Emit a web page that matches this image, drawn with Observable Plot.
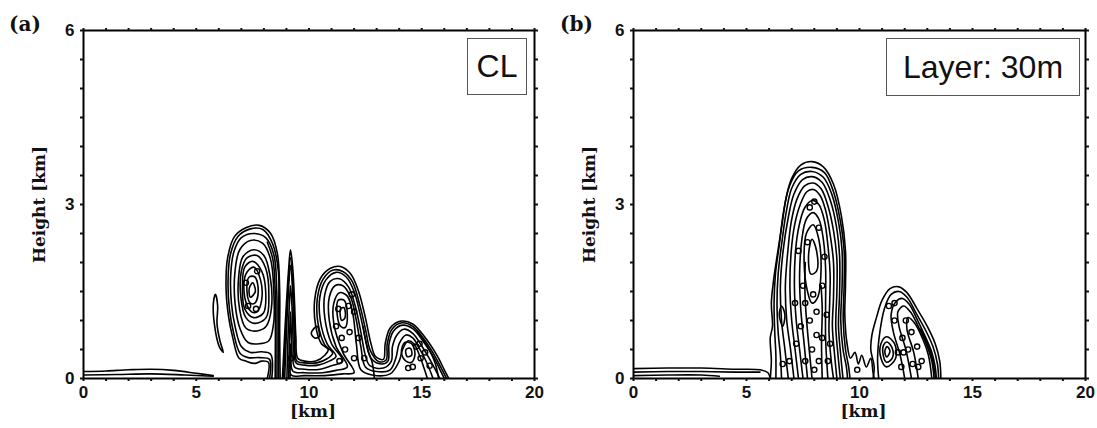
<!DOCTYPE html>
<html>
<head>
<meta charset="utf-8">
<script src="https://cdn.jsdelivr.net/npm/d3@7"></script>
<script src="https://cdn.jsdelivr.net/npm/@observablehq/plot@0.6"></script>
<style>
  html, body { margin: 0; padding: 0; background: #fff; }
  #wrap { position: relative; width: 1097px; height: 428px; overflow: hidden; }
  .panel { position: absolute; top: 0; }
  .plab { position: absolute; font-family: "DejaVu Serif", serif; font-weight: bold; font-size: 20px; line-height: 20px; color: #111; }
  .legbox { position: absolute; box-sizing: border-box; border: 1.5px solid #555; background: #fff;
            font-family: "Liberation Sans", Arial, sans-serif; font-size: 32px; color: #111;
            display: flex; align-items: center; justify-content: center; }
</style>
</head>
<body>
<div id="wrap">
  <div class="panel" id="pa" style="left:0px"></div>
  <div class="panel" id="pb" style="left:548px"></div>
  <div class="plab" style="left:9px; top:14px">(a)</div>
  <div class="plab" style="left:560px; top:14px">(b)</div>
  <div class="legbox" style="left:467px; top:38px; width:60px; height:57px;">CL</div>
  <div class="legbox" style="left:886px; top:38px; width:194px; height:58px;">Layer: 30m</div>
</div>
<script>
// ---------- axis ticks ----------
const xMinorTicks = [0,1,2,3,4,5,6,7,8,9,10,11,12,13,14,15,16,17,18,19,20];
const xLabelTicks = [0,5,10,15,20];
const yMinorTicks = [0,0.5,1,1.5,2,2.5,3,3.5,4,4.5,5,5.5,6];
const yLabelTicks = [0,3,6];
const xTitle = "[km]";
const yTitle = "Height [km]";

// ---------- panel (a) CL : contour lines, [km, km] ----------
const aGroundLines = [
  [[0,0.12],[1,0.13],[2,0.15],[3,0.16],[4,0.14],[5,0.09],[5.75,0.05]],
  [[0,0.06],[1.5,0.07],[3,0.08],[4.5,0.06],[5.75,0.04]]
];
const aVortex1Open = [
  [[8.15,0],[8.2,0.28],[7.9,0.3],[7.6,0.26],[7.2,0.3],[6.9,0.35],[6.62,0.7],[6.42,1.1],[6.32,1.6],[6.4,2.1],[6.7,2.45],[7.2,2.6],[7.8,2.64],[8.3,2.5],[8.6,2.15],[8.7,1.5],[8.7,0.8],[8.72,0]],
  [[8.25,0],[8.25,0.33],[7.8,0.36],[7.3,0.36],[6.95,0.43],[6.66,0.78],[6.47,1.2],[6.41,1.7],[6.52,2.15],[6.85,2.45],[7.4,2.58],[7.95,2.57],[8.38,2.33],[8.64,1.85],[8.65,1.1],[8.65,0]],
  [[8.35,0],[8.3,0.42],[7.9,0.46],[7.4,0.45],[7.0,0.55],[6.72,0.9],[6.56,1.3],[6.53,1.8],[6.68,2.2],[7.0,2.43],[7.6,2.5],[8.1,2.42],[8.45,2.12],[8.57,1.5],[8.58,0.8],[8.58,0]],
  [[8.5,0],[8.51,0.8],[8.5,1.5],[8.4,2.05],[8.15,2.35]]
];
const aVortex1Closed = [
  [[7.8,0.6],[7.3,0.62],[6.95,0.85],[6.72,1.3],[6.72,1.85],[6.93,2.22],[7.4,2.38],[7.95,2.33],[8.3,2.05],[8.44,1.5],[8.43,0.95],[8.22,0.65]],
  [[7.7,0.82],[7.2,0.87],[6.92,1.2],[6.88,1.75],[7.07,2.1],[7.55,2.22],[8.0,2.12],[8.28,1.75],[8.33,1.2],[8.1,0.9]],
  [[7.6,0.95],[7.2,1.05],[6.98,1.4],[7.0,1.85],[7.25,2.08],[7.7,2.12],[8.08,1.9],[8.22,1.45],[8.1,1.05]],
  [[7.55,1.05],[7.15,1.2],[7.05,1.58],[7.15,1.92],[7.5,2.02],[7.9,1.85],[8.08,1.5],[7.98,1.13]],
  [[7.45,1.15],[7.15,1.4],[7.2,1.8],[7.55,1.92],[7.85,1.7],[7.9,1.35],[7.7,1.15]],
  [[7.4,1.3],[7.25,1.5],[7.35,1.75],[7.6,1.75],[7.75,1.5],[7.6,1.3]],
  [[7.4,1.4],[7.35,1.55],[7.5,1.65],[7.62,1.5]],
  [[5.85,1.45],[5.95,1.25],[5.92,0.95],[6.05,0.65],[6.2,0.45],[6.02,0.55],[5.8,0.95],[5.76,1.3]],
  [[10.1,0.78],[10.35,0.9],[10.45,0.72],[10.25,0.7]]
];
const aSpikeAndTrailOpen = [
  [[8.82,0],[8.9,0.6],[9.0,1.3],[9.1,1.9],[9.18,2.22],[9.28,1.9],[9.36,1.3],[9.42,0.7],[9.5,0.35],[9.8,0.3],[10.3,0.3],[10.7,0.4],[10.85,0.5],[10.55,0.6],[10.3,0.9],[10.25,1.35],[10.5,1.72],[10.95,1.9],[11.4,1.93],[11.85,1.8],[12.2,1.5],[12.5,1.05],[12.75,0.6],[12.95,0.38],[13.3,0.33],[13.38,0.6],[13.6,0.87],[14.1,0.99],[14.6,0.94],[15.2,0.68],[15.7,0.38],[16.0,0.15],[16.2,0]],
  [[8.87,0],[8.94,0.6],[9.03,1.3],[9.18,2.08],[9.32,1.3],[9.38,0.7],[9.46,0.3],[9.8,0.27],[10.35,0.27],[10.8,0.34],[11.05,0.44],[10.7,0.58],[10.4,0.95],[10.37,1.38],[10.62,1.71],[11.07,1.87],[11.52,1.84],[11.92,1.67],[12.25,1.27],[12.52,0.82],[12.72,0.48],[13.1,0.29],[13.42,0.32],[13.47,0.6],[13.68,0.85],[14.12,0.96],[14.6,0.9],[15.15,0.65],[15.62,0.36],[15.93,0.13],[16.1,0]],
  [[8.92,0],[8.98,0.6],[9.06,1.3],[9.18,1.95],[9.3,1.3],[9.35,0.7],[9.42,0.27],[9.8,0.23],[10.4,0.23],[10.9,0.3],[11.2,0.38],[10.8,0.6],[10.5,1.0],[10.48,1.4],[10.75,1.7],[11.2,1.83],[11.65,1.75],[12.0,1.5],[12.3,1.05],[12.55,0.6],[12.75,0.35],[13.2,0.25],[13.5,0.3],[13.55,0.6],[13.75,0.82],[14.15,0.92],[14.6,0.86],[15.1,0.62],[15.55,0.35],[15.85,0.12],[16.0,0]],
  [[9.02,0],[9.06,0.6],[9.12,1.2],[9.18,1.6],[9.25,1.2],[9.3,0.6],[9.36,0.2],[9.8,0.16],[10.5,0.16],[11.0,0.22],[11.5,0.3],[11.0,0.6],[10.7,1.05],[10.7,1.45],[10.95,1.68],[11.35,1.72],[11.75,1.58],[12.05,1.25],[12.3,0.8],[12.5,0.4],[12.7,0.22],[13.3,0.18],[13.65,0.3],[13.7,0.55],[13.9,0.75],[14.2,0.85],[14.6,0.78],[15.0,0.56],[15.4,0.3],[15.7,0.08],[15.8,0]],
  [[9.1,0],[9.13,0.6],[9.18,1.15],[9.23,0.6],[9.28,0.13],[9.8,0.1],[10.6,0.1],[11.2,0.14],[11.7,0.2],[11.2,0.55],[10.9,1.0],[10.9,1.4],[11.15,1.6],[11.5,1.6],[11.85,1.4],[12.1,1.0],[12.3,0.55],[12.5,0.2],[13.0,0.12],[13.6,0.15],[13.85,0.35],[14.0,0.6],[14.3,0.75],[14.6,0.7],[14.95,0.48],[15.25,0.25],[15.5,0]],
  [[9.16,0],[9.18,0.6],[9.21,0.06],[9.8,0.05],[10.7,0.05],[11.5,0.08],[12.0,0.1],[11.5,0.45],[11.1,0.95],[11.1,1.3],[11.35,1.48],[11.7,1.42],[11.95,1.1],[12.1,0.6],[12.3,0.15],[12.8,0.06],[13.6,0.08],[14.0,0.3],[14.15,0.5],[14.4,0.65],[14.65,0.6],[14.9,0.4],[15.1,0.18],[15.25,0]],
  [[12.4,0.9],[12.6,0.5],[12.8,0.28],[12.9,0]],
  [[14.8,0.82],[15.3,0.52],[15.6,0.26],[15.75,0]]
];
const aCoresClosed = [
  [[11.4,0.9],[11.25,1.1],[11.3,1.35],[11.55,1.35],[11.7,1.1],[11.6,0.88]],
  [[11.45,1.0],[11.4,1.2],[11.55,1.22],[11.6,1.05]],
  [[14.3,0.3],[14.1,0.45],[14.25,0.62],[14.55,0.6],[14.7,0.42],[14.55,0.28]],
  [[14.35,0.38],[14.3,0.5],[14.5,0.52],[14.55,0.4]]
];
const aCells = [[11.3,1.2],[11.75,1.25],[11.8,0.8],[11.45,0.7],[12.0,1.15],[11.6,0.5],[12.2,0.7],[12.0,0.35],[11.2,0.9],[11.9,1.45],
  [14.75,0.55],[14.95,0.35],[15.15,0.45],[14.4,0.18],[15.35,0.22],[14.6,0.2],[14.9,0.6],
  [7.3,1.25],[7.65,1.2],[7.2,1.65],[7.7,1.85],[12.45,0.35],[11.35,0.3],[9.2,0.35]];

// ---------- panel (b) Layer: 30m ----------
const bGroundLines = [
  [[0,0.17],[1.5,0.18],[3,0.18],[4.5,0.16],[5.6,0.15],[5.95,0.1],[6.05,0]],
  [[0,0.11],[1.5,0.12],[3,0.12],[4.5,0.11],[5.6,0.11]],
  [[0,0.05],[1.5,0.06],[3,0.06],[3.8,0.04]]
];
const bPlumeOpen = [
  [[6.05,0],[6.1,0.3],[6.05,0.7],[6.15,0.9],[6.1,1.3],[6.2,1.7],[6.35,2.1],[6.55,2.6],[6.75,3.1],[7.0,3.45],[7.4,3.68],[7.9,3.74],[8.4,3.65],[8.85,3.35],[9.2,2.8],[9.38,2.2],[9.38,1.6],[9.35,1.1],[9.45,0.6],[9.6,0.35],[9.8,0.45],[9.95,0.25],[10.1,0.4],[10.3,0.2],[10.5,0.35],[10.6,0.1],[10.65,0]],
  [[6.3,0],[6.3,0.4],[6.25,0.8],[6.22,1.3],[6.28,1.8],[6.45,2.3],[6.63,2.85],[6.88,3.3],[7.3,3.58],[7.9,3.64],[8.45,3.55],[8.85,3.22],[9.15,2.72],[9.32,2.2],[9.32,1.6],[9.28,1.0],[9.38,0.5],[9.52,0.2],[9.58,0]],
  [[6.55,0],[6.5,0.4],[6.4,0.8],[6.35,1.3],[6.4,1.8],[6.55,2.3],[6.75,2.85],[7.0,3.28],[7.4,3.52],[7.9,3.57],[8.4,3.47],[8.78,3.17],[9.07,2.7],[9.23,2.2],[9.23,1.6],[9.17,1.0],[9.27,0.5],[9.42,0.2],[9.47,0]],
  [[6.85,0],[6.7,0.5],[6.55,1.0],[6.5,1.6],[6.62,2.2],[6.85,2.78],[7.1,3.18],[7.48,3.43],[7.9,3.48],[8.35,3.38],[8.7,3.08],[8.98,2.62],[9.12,2.1],[9.12,1.5],[9.07,0.9],[9.17,0.4],[9.27,0]],
  [[7.1,0],[6.95,0.5],[6.78,1.0],[6.72,1.6],[6.83,2.2],[6.98,2.7],[7.22,3.08],[7.57,3.32],[7.95,3.37],[8.3,3.27],[8.6,2.98],[8.85,2.55],[9.0,2.05],[9.0,1.5],[8.95,0.9],[9.05,0.4],[9.15,0]],
  [[7.3,0],[7.15,0.5],[7.0,1.0],[6.92,1.6],[6.98,2.2],[7.13,2.65],[7.38,3.0],[7.67,3.22],[7.95,3.26],[8.25,3.16],[8.5,2.9],[8.7,2.48],[8.85,2.0],[8.85,1.4],[8.8,0.9],[8.9,0.4],[9.0,0]],
  [[7.5,0],[7.35,0.5],[7.2,1.0],[7.12,1.6],[7.17,2.2],[7.32,2.62],[7.57,2.94],[7.9,3.07],[8.2,3.0],[8.45,2.72],[8.6,2.3],[8.7,1.8],[8.68,1.3],[8.65,0.8],[8.75,0.3],[8.85,0]],
  [[7.7,0],[7.55,0.6],[7.4,1.2],[7.35,1.8],[7.45,2.4],[7.65,2.75],[7.95,2.86],[8.2,2.75],[8.4,2.4],[8.5,1.9],[8.5,1.3],[8.5,0.7],[8.6,0]],
  [[7.9,0],[7.75,0.6],[7.62,1.2],[7.58,1.6],[7.6,2.0]],
  [[8.35,0],[8.32,0.6],[8.35,1.2],[8.3,1.6]],
  [[10.6,0],[10.65,0.2],[10.5,0.5],[10.55,0.75],[10.75,1.05],[11.0,1.35],[11.35,1.55],[11.75,1.58],[12.1,1.48],[12.55,1.2],[13.0,0.9],[13.35,0.6],[13.55,0.3],[13.6,0]],
  [[10.85,0],[10.8,0.35],[10.9,0.8],[11.1,1.2],[11.4,1.45],[11.75,1.5],[12.1,1.4],[12.5,1.13],[12.9,0.85],[13.25,0.55],[13.45,0.25],[13.5,0]],
  [[12.0,0],[11.8,0.4],[11.5,0.8],[11.4,1.1],[11.6,1.32],[11.9,1.38],[12.2,1.28],[12.55,1.02],[12.9,0.73],[13.2,0.45],[13.35,0.2],[13.4,0]],
  [[12.3,0],[12.05,0.5],[11.75,0.9],[11.7,1.15],[11.95,1.25],[12.25,1.15],[12.6,0.9],[12.95,0.6],[13.2,0.3],[13.3,0]],
  [[12.6,0],[12.4,0.45],[12.1,0.85],[12.15,1.05],[12.45,0.95],[12.8,0.68],[13.05,0.4],[13.2,0]],
  [[12.7,0.85],[13.0,0.6],[13.22,0.35],[13.36,0]]
];
const bCoresClosed = [
  [[7.7,1.5],[7.55,2.0],[7.65,2.5],[7.95,2.65],[8.2,2.4],[8.3,1.9],[8.15,1.4],[7.9,1.3]],
  [[7.85,1.8],[7.75,2.15],[7.9,2.4],[8.1,2.2],[8.1,1.85]],
  [[11.2,0.2],[10.95,0.35],[10.95,0.6],[11.2,0.72],[11.55,0.6],[11.6,0.35]],
  [[11.2,0.28],[11.05,0.4],[11.07,0.58],[11.22,0.63],[11.45,0.52],[11.45,0.35]],
  [[11.2,0.37],[11.12,0.47],[11.22,0.55],[11.35,0.47]],
  [[6.6,0.9],[6.45,1.1],[6.55,1.25],[6.7,1.1]]
];
const bCells = [[7.6,0.3],[7.9,0.5],[8.2,0.3],[8.35,0.7],[7.8,1.0],[8.1,1.15],[7.5,1.6],[8.35,1.6],[7.7,2.35],[8.0,3.05],[7.4,0.9],[8.6,0.3],[6.9,0.3],[7.2,0.6],[8.0,0.15],[7.6,1.3],
  [8.1,0.75],[7.95,1.45],[8.45,2.1],[7.3,2.2],[8.2,2.6],[7.8,2.95],[8.55,1.1],[7.15,1.3],[8.7,0.6],
  [11.3,1.25],[11.55,1.0],[11.9,0.7],[12.15,0.5],[12.35,0.25],[12.05,1.0],[12.55,0.55],[11.85,0.2],[12.75,0.3],[11.7,0.45],[9.9,0.15],[6.6,0.25],
  [11.55,1.3],[12.3,0.8],[12.6,0.2],[11.95,0.45]];

// ---------- drawing ----------
const toRows = lines => lines.flatMap((pts, i) => pts.map(([x, y]) => ({id: i, x, y})));
const toDots = pts => pts.map(([x, y]) => ({x, y}));

function panel({width, marginLeft, marginRight, openLines, closedLines, cells}) {
  const lineStyle = {stroke: "black", strokeWidth: 1.6, clip: true};
  return Plot.plot({
    width, height: 428,
    marginLeft, marginRight, marginTop: 30, marginBottom: 50,
    style: {fontFamily: "'Liberation Sans', Arial, sans-serif", fontWeight: "bold", fontSize: "17px", color: "#111", background: "white"},
    x: {domain: [0, 20], label: null},
    y: {domain: [0, 6], label: null},
    marks: [
      Plot.line(toRows(openLines), {x: "x", y: "y", z: "id", curve: "catmull-rom", ...lineStyle}),
      Plot.line(toRows(closedLines), {x: "x", y: "y", z: "id", curve: "catmull-rom-closed", ...lineStyle}),
      Plot.dot(toDots(cells), {x: "x", y: "y", r: 2.6, stroke: "black", fill: "none", strokeWidth: 1.4, clip: true}),
      Plot.frame({stroke: "black", strokeWidth: 2}),
      Plot.axisX({anchor: "bottom", ticks: xMinorTicks, tickSize: 3, tickPadding: 4, strokeWidth: 2,
        tickFormat: d => xLabelTicks.includes(d) ? String(d) : "", fontSize: 17, fontWeight: "bold", label: null}),
      Plot.axisX({anchor: "top", ticks: xMinorTicks, tickSize: 3, strokeWidth: 2, tickFormat: () => "", label: null}),
      Plot.axisY({anchor: "left", ticks: yMinorTicks, tickSize: 3, tickPadding: 6, strokeWidth: 2,
        tickFormat: d => yLabelTicks.includes(d) ? String(d) : "", fontSize: 17, fontWeight: "bold", label: null}),
      Plot.axisY({anchor: "right", ticks: yMinorTicks, tickSize: 3, strokeWidth: 2, tickFormat: () => "", label: null}),
      Plot.text([xTitle], {frameAnchor: "bottom", dy: 38, dx: 4, fontFamily: "'DejaVu Serif', serif", fontSize: 17, fontWeight: "bold"}),
      Plot.text([yTitle], {frameAnchor: "left", textAnchor: "middle", dx: -44, rotate: -90, fontFamily: "'DejaVu Serif', serif", fontSize: 17, fontWeight: "bold"})
    ]
  });
}

document.getElementById("pa").appendChild(panel({
  width: 548, marginLeft: 83, marginRight: 14,
  openLines: [...aGroundLines, ...aVortex1Open, ...aSpikeAndTrailOpen],
  closedLines: [...aVortex1Closed, ...aCoresClosed],
  cells: aCells
}));
document.getElementById("pb").appendChild(panel({
  width: 549, marginLeft: 85, marginRight: 12,
  openLines: [...bGroundLines, ...bPlumeOpen],
  closedLines: bCoresClosed,
  cells: bCells
}));
</script>
</body>
</html>
